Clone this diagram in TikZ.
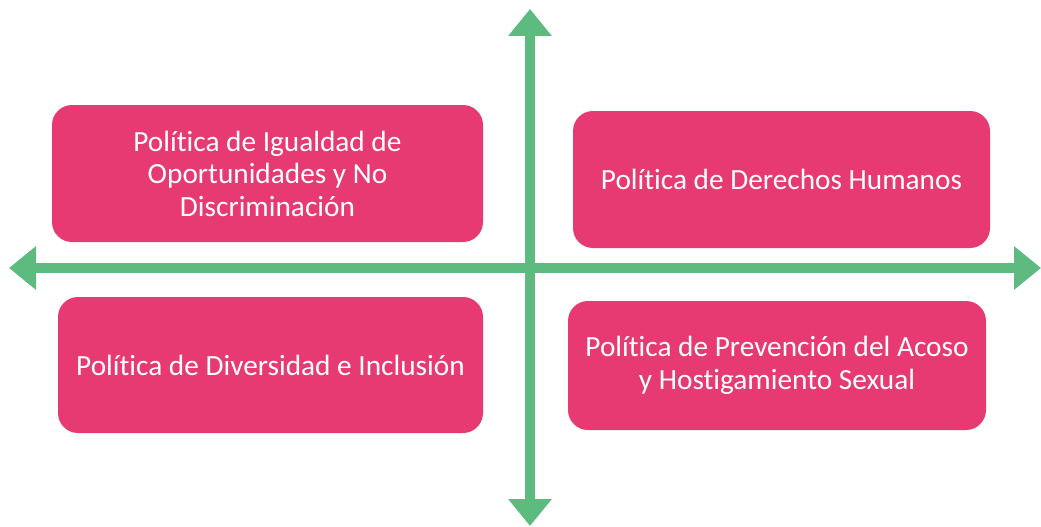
\documentclass[tikz,border=0pt]{standalone}
\usepackage{fontspec}
\setmainfont[Ligatures=NoCommon]{Carlito}
\usetikzlibrary{arrows.meta}
\definecolor{politica}{HTML}{E83A72}
\definecolor{eje}{HTML}{5DBB7F}
\tikzset{
  caja/.style={fill=politica,rounded corners=20pt,text=white,align=center,
    font=\fontsize{29.3}{32.5}\selectfont,inner sep=0pt},
  eje/.style={draw=eje,line width=10pt,{Triangle[width=42pt,length=27pt]}-{Triangle[width=42pt,length=27pt]}}
}
\begin{document}
\begin{tikzpicture}[x=1pt,y=-1pt]
            \useasboundingbox (0,0) rectangle (1041,527);
            \node[caja,minimum width=431pt,minimum height=137pt] (igualdad) at (267.5,173.5)
              {Política de Igualdad de\\Oportunidades y No\\Discriminación};
            \node[caja,minimum width=417pt,minimum height=137pt] (derechos) at (781.5,179.5)
              {Política de Derechos Humanos};
            \node[caja,minimum width=425pt,minimum height=136pt] (diversidad) at (270.5,365)
              {Política de Diversidad e Inclusión};
            \node[caja,minimum width=418pt,minimum height=129pt] (acoso) at (777,365.5)
              {Política de Prevención del Acoso\\y Hostigamiento Sexual};
            \coordinate (arriba) at (530,9);
            \coordinate (abajo) at (530,526);
            \coordinate (izq) at (9,268);
            \coordinate (der) at (1041,268);
            \draw[eje] (izq) -- (der);
            \draw[eje] (abajo) -- (arriba);
\end{tikzpicture}
\end{document}
